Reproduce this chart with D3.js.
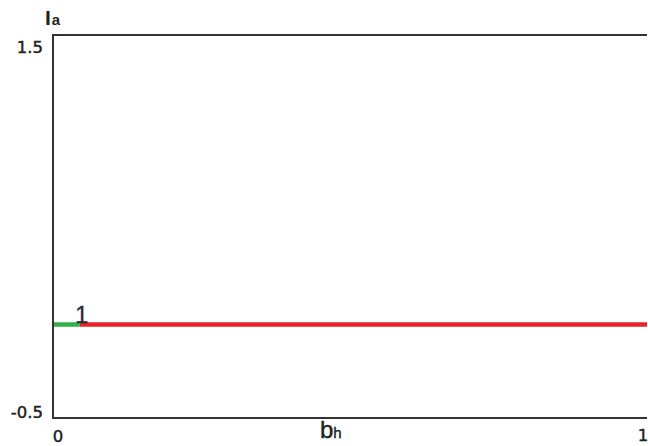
<!DOCTYPE html>
<html>
<head>
<meta charset="utf-8">
<script src="https://cdn.jsdelivr.net/npm/d3@7"></script>
<style>
  html, body { margin: 0; padding: 0; background: #fff; }
  svg { display: block; }
  text { font-family: "Liberation Sans", Arial, sans-serif; fill: #222; }
  text.tick { font-family: "DejaVu Sans", Verdana, sans-serif; stroke: #222; stroke-width: 0.45px; }
  text.title { stroke: #222; stroke-width: 0.4px; }
</style>
</head>
<body>
<svg id="chart" width="648" height="446"></svg>
<script>
// Axis extents and labels
const xDomain = [0, 1];
const yDomain = [-0.5, 1.5];
const xTickLabels = ["0", "1"];
const yTickLabels = ["1.5", "-0.5"];

// Piecewise series: [x0, x1, y, colour]
const segStart = [0, 0.045];
const segEnd = [0.045, 1];
const segValue = [0, 0];
const segColor = ["#2fb04a", "#ec2229"];

// Point labels on the curve
const pointLabels = ["1"];
const pointX = [0.045];
const pointY = [0];

const svg = d3.select("#chart");
const frame = { left: 53, right: 647, top: 35, bottom: 418 };

const x = d3.scaleLinear().domain(xDomain).range([frame.left, frame.right]);
const y = d3.scaleLinear().domain(yDomain).range([421, frame.top]);

// Series segments
svg.selectAll("line.seg")
  .data(segStart.map((s, i) => ({ s, e: segEnd[i], v: segValue[i], c: segColor[i] })))
  .join("line")
  .attr("class", "seg")
  .attr("x1", d => x(d.s))
  .attr("x2", d => x(d.e))
  .attr("y1", d => y(d.v))
  .attr("y2", d => y(d.v))
  .attr("stroke", d => d.c)
  .attr("stroke-width", 4.5);

// Frame: left, top and bottom edges
svg.append("path")
  .attr("d", `M${frame.right},${frame.top}H${frame.left}V${frame.bottom}H${frame.right}`)
  .attr("fill", "none")
  .attr("stroke", "#333")
  .attr("stroke-width", 2);

const tickFont = 16.5;

// Y end labels
svg.append("text").attr("class", "tick").attr("x", 43).attr("y", 53).attr("text-anchor", "end")
  .attr("font-size", tickFont).text(yTickLabels[0]);
svg.append("text").attr("class", "tick").attr("x", 43).attr("y", 418).attr("text-anchor", "end")
  .attr("font-size", tickFont).text(yTickLabels[1]);

// X end labels
svg.append("text").attr("class", "tick").attr("x", 58).attr("y", 442).attr("text-anchor", "middle")
  .attr("font-size", tickFont).text(xTickLabels[0]);
svg.append("text").attr("class", "tick").attr("x", 643).attr("y", 441).attr("text-anchor", "middle")
  .attr("font-size", tickFont).text(xTickLabels[1]);

// Axis titles with subscripts
const yt = svg.append("text").attr("x", 45).attr("y", 25).attr("font-size", 21).attr("font-weight", 700);
yt.append("tspan").text("I");
yt.append("tspan").attr("font-size", 15).attr("dx", 1).text("a");

const xt = svg.append("text").attr("class", "title").attr("x", 320).attr("y", 438).attr("font-size", 24);
xt.append("tspan").text("b");
xt.append("tspan").attr("font-size", 15).attr("dx", 0).text("h");

// Point labels
svg.selectAll("text.pt")
  .data(pointLabels.map((t, i) => ({ t, px: pointX[i], py: pointY[i] })))
  .join("text")
  .attr("class", "pt")
  .attr("x", d => x(d.px) + 2)
  .attr("y", d => y(d.py) - 2)
  .attr("text-anchor", "middle")
  .attr("font-size", 24)
  .style("fill", "#2a2a3a")
  .style("stroke", "#2a2a3a")
  .style("stroke-width", "0.3px")
  .text(d => d.t);
</script>
</body>
</html>
